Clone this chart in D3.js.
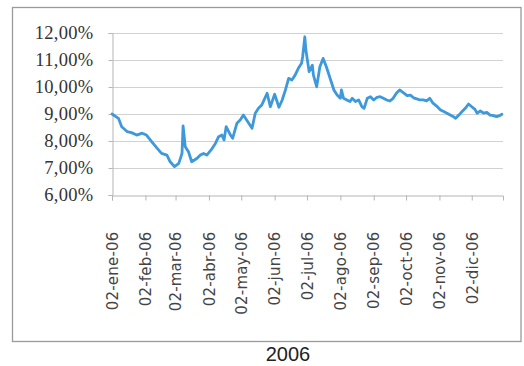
<!DOCTYPE html>
<html>
<head>
<meta charset="utf-8">
<script src="https://cdn.jsdelivr.net/npm/d3@7"></script>
<style>
  html, body { margin: 0; padding: 0; background: #ffffff; }
  svg { display: block; }
</style>
</head>
<body>
<svg id="chart" width="524" height="366"></svg>
<script>
// Daily rate series for 2006 (percent)
const dates = [
  "2006-01-02","2006-01-08","2006-01-11","2006-01-16","2006-01-20","2006-01-25","2006-01-30",
  "2006-02-03","2006-02-08","2006-02-13","2006-02-17","2006-02-22","2006-02-25",
  "2006-03-01","2006-03-05","2006-03-08","2006-03-09","2006-03-11","2006-03-14","2006-03-17",
  "2006-03-22","2006-03-25","2006-03-28","2006-03-31",
  "2006-04-04","2006-04-08","2006-04-11","2006-04-14","2006-04-16","2006-04-18","2006-04-22",
  "2006-04-24","2006-04-28",
  "2006-05-01","2006-05-04","2006-05-07","2006-05-12","2006-05-15","2006-05-18","2006-05-21",
  "2006-05-26","2006-05-29",
  "2006-06-02","2006-06-06","2006-06-09","2006-06-12","2006-06-15","2006-06-18","2006-06-21",
  "2006-06-24","2006-06-27","2006-06-28","2006-06-30",
  "2006-07-01","2006-07-04","2006-07-07","2006-07-08","2006-07-11","2006-07-14","2006-07-17",
  "2006-07-20","2006-07-24","2006-07-27","2006-07-30",
  "2006-08-02","2006-08-03","2006-08-05","2006-08-08","2006-08-11","2006-08-13","2006-08-16",
  "2006-08-19","2006-08-22","2006-08-24","2006-08-27","2006-08-30",
  "2006-09-02","2006-09-05","2006-09-08","2006-09-11","2006-09-14","2006-09-17","2006-09-20",
  "2006-09-23","2006-09-26","2006-09-30",
  "2006-10-03","2006-10-06","2006-10-09","2006-10-12","2006-10-15","2006-10-18","2006-10-21",
  "2006-10-24","2006-10-27","2006-10-31",
  "2006-11-03","2006-11-06","2006-11-09","2006-11-12","2006-11-15","2006-11-17","2006-11-20",
  "2006-11-23","2006-11-26","2006-11-29",
  "2006-12-02","2006-12-05","2006-12-07","2006-12-10","2006-12-13","2006-12-16","2006-12-19",
  "2006-12-22","2006-12-25","2006-12-28","2006-12-30"
];
const rates = [
  9.00, 8.84, 8.53, 8.35, 8.31, 8.22, 8.29,
  8.22, 7.97, 7.73, 7.54, 7.48, 7.23,
  7.05, 7.17, 7.54, 8.56, 7.79, 7.60, 7.23,
  7.36, 7.48, 7.54, 7.48,
  7.67, 7.91, 8.16, 8.22, 8.04, 8.53, 8.22,
  8.10, 8.66,
  8.78, 8.96, 8.78, 8.47, 9.03, 9.21, 9.33,
  9.77, 9.27,
  9.73, 9.25, 9.52, 9.89, 10.32, 10.26, 10.44,
  10.69, 10.88, 11.12, 11.86,
  11.37, 10.57, 10.81, 10.44, 10.01, 10.75, 11.06,
  10.75, 10.26, 9.89, 9.70,
  9.58, 9.89, 9.58, 9.52, 9.46, 9.58, 9.46,
  9.52, 9.27, 9.21, 9.58, 9.64,
  9.52, 9.62, 9.64, 9.58, 9.52, 9.48, 9.58,
  9.77, 9.89, 9.77,
  9.68, 9.70, 9.60, 9.56, 9.52, 9.52, 9.49,
  9.58, 9.40, 9.27,
  9.15, 9.09, 9.03, 8.96, 8.90, 8.84, 8.96,
  9.09, 9.21, 9.37,
  9.27, 9.17, 9.03, 9.11, 9.03, 9.06, 8.96,
  8.94, 8.90, 8.94, 8.99
];
const yTicks = [6, 7, 8, 9, 10, 11, 12];
const monthTicks = ["2006-01-02","2006-02-02","2006-03-02","2006-04-02","2006-05-02","2006-06-02",
                    "2006-07-02","2006-08-02","2006-09-02","2006-10-02","2006-11-02","2006-12-02"];
const monthNames = ["ene","feb","mar","abr","may","jun","jul","ago","sep","oct","nov","dic"];
const xTitle = "2006";

const parse = d3.timeParse("%Y-%m-%d");
const series = dates.map((d, i) => ({ date: parse(d), value: rates[i] }));

const svg = d3.select("#chart");

// Outer chart frame
svg.append("rect")
  .attr("x", 12.5).attr("y", 7.5)
  .attr("width", 508.5).attr("height", 334)
  .attr("fill", "#ffffff")
  .attr("stroke", "#9a9a9a")
  .attr("stroke-width", 1.3);

const plot = { left: 112, right: 503, top: 33, bottom: 195 };

const x = d3.scaleTime()
  .domain([parse("2006-01-02"), parse("2006-12-31")])
  .range([plot.left, plot.right]);

const y = d3.scaleLinear()
  .domain([6, 12])
  .range([plot.bottom, plot.top]);

// Horizontal gridlines
svg.append("g")
  .selectAll("line")
  .data(yTicks.filter(t => t > 6))
  .join("line")
  .attr("x1", plot.left).attr("x2", plot.right)
  .attr("y1", d => Math.round(y(d)) + 0.5)
  .attr("y2", d => Math.round(y(d)) + 0.5)
  .attr("stroke", "#d2d2d2")
  .attr("stroke-width", 1);

// Y axis
const fmt = v => v.toFixed(2).replace(".", ",") + "%";
const yAxis = svg.append("g")
  .attr("transform", `translate(${plot.left + 0.5},0)`)
  .call(d3.axisLeft(y).tickValues(yTicks).tickSize(4).tickPadding(15).tickFormat(fmt));
yAxis.select(".domain").attr("stroke", "#b5b5b5");
yAxis.selectAll(".tick line").attr("stroke", "#b5b5b5");
yAxis.selectAll(".tick text")
  .attr("fill", "#333333")
  .style("font-family", "'Liberation Serif', 'Times New Roman', serif")
  .style("font-size", "18.5px")
  .style("letter-spacing", "0.3px");

// X axis with month ticks
const xAxis = svg.append("g")
  .attr("transform", `translate(0,${plot.bottom + 0.5})`)
  .call(d3.axisBottom(x)
    .tickValues(monthTicks.map(parse))
    .tickSize(5)
    .tickFormat((d, i) => "02-" + monthNames[i] + "-06"));
xAxis.select(".domain").attr("stroke", "#b5b5b5");
xAxis.selectAll(".tick line").attr("stroke", "#b5b5b5");
xAxis.selectAll(".tick text")
  .attr("fill", "#444444")
  .attr("transform", "rotate(-90)")
  .attr("text-anchor", "end")
  .attr("x", -36)
  .attr("y", 0)
  .attr("dy", "0.35em")
  .style("font-family", "'DejaVu Sans', sans-serif")
  .style("font-size", "15px")
  .style("letter-spacing", "0.2px");

// Rate line
const line = d3.line()
  .x(d => x(d.date))
  .y(d => y(d.value));

svg.append("path")
  .datum(series)
  .attr("fill", "none")
  .attr("stroke", "#3d99dc")
  .attr("stroke-width", 2.8)
  .attr("stroke-linejoin", "round")
  .attr("stroke-linecap", "round")
  .attr("d", line);

// Axis title below the frame
svg.append("text")
  .attr("x", 288).attr("y", 361)
  .attr("text-anchor", "middle")
  .attr("fill", "#222222")
  .style("font-family", "'Liberation Sans', Arial, sans-serif")
  .style("font-size", "20px")
  .text(xTitle);
</script>
</body>
</html>
